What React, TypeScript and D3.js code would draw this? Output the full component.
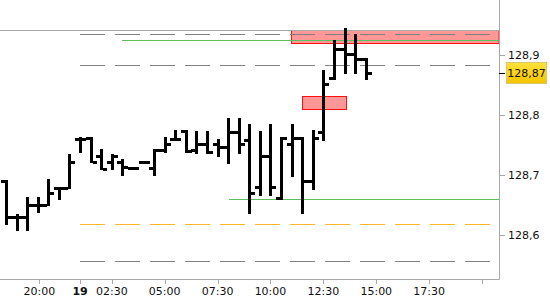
import React from "react";
import * as d3 from "d3";

// OHLC bars (30-minute bars, index based)
const opens = [128.690, 128.631, 128.631, 128.650, 128.650, 128.679, 128.679, 128.760, 128.761, 128.732, 128.721, 128.722, 128.711, 128.722, 128.711, 128.742, 128.760, 128.773, 128.741, 128.751, 128.751, 128.746, 128.772, 128.759, 128.680, 128.731, 128.662, 128.751, 128.761, 128.690, 128.771, 128.861, 128.909, 128.901, 128.892];
const highs = [128.690, 128.634, 128.662, 128.662, 128.692, 128.679, 128.733, 128.761, 128.761, 128.742, 128.733, 128.725, 128.711, 128.722, 128.742, 128.761, 128.773, 128.773, 128.772, 128.772, 128.759, 128.793, 128.793, 128.783, 128.772, 128.783, 128.761, 128.783, 128.761, 128.773, 128.873, 128.923, 128.942, 128.933, 128.892];
const lows = [128.618, 128.609, 128.609, 128.638, 128.650, 128.660, 128.679, 128.739, 128.721, 128.710, 128.710, 128.700, 128.711, 128.722, 128.700, 128.739, 128.758, 128.739, 128.737, 128.737, 128.731, 128.720, 128.737, 128.637, 128.667, 128.667, 128.660, 128.699, 128.637, 128.677, 128.758, 128.860, 128.869, 128.869, 128.860];
const closes = [128.631, 128.631, 128.650, 128.650, 128.670, 128.679, 128.722, 128.760, 128.721, 128.710, 128.732, 128.714, 128.711, 128.722, 128.741, 128.751, 128.760, 128.740, 128.751, 128.739, 128.746, 128.772, 128.751, 128.670, 128.731, 128.680, 128.761, 128.761, 128.690, 128.761, 128.851, 128.909, 128.901, 128.892, 128.870];

const xTickIdx = [3.15, 7, 10, 15, 20, 25, 30, 35, 40, 45];
const xTickLabels = ["20:00", "19", "02:30", "05:00", "07:30", "10:00", "12:30", "15:00", "17:30", ""];
const yTicks = [128.6, 128.7, 128.8, 128.9];
const yTickLabels = ["128,6", "128,7", "128,8", "128,9"];
const lastPrice = 128.87;
const lastPriceLabel = "128,87";

// horizontal levels
const dashedGrayLevels = [128.934, 128.882, 128.5575];
const dashedOrangeLevels = [128.6184];
const dashedStartIdx = 7;
const greenLevels = [128.925, 128.660];
const greenStartIdx = [11, 21.1];
const solidGrayLevels = [128.941];
// zones: [startIdx, endIdx (null = to axis), low, high]
const zoneStart = [26.97, 28];
const zoneEnd = [null, 32.1];
const zoneLow = [128.919, 128.809];
const zoneHigh = [128.941, 128.831];

export default function App() {
  const W = 550, H = 300;
  const plotRight = 499, plotBottom = 279;
  const x = d3.scaleLinear().domain([0, 34]).range([6, 365.7]);
  const y = d3.scaleLinear().domain([128.6, 128.9]).range([235.3, 54.6]);
  const font = "'DejaVu Sans', Verdana, sans-serif";
  const r = (v: number) => Math.round(v);

  return (
    <svg width={W} height={H} style={{ position: "absolute", left: 0, top: 0, background: "#fff" }} fontFamily={font}>
      {/* zones */}
      {zoneStart.map((s, i) => {
        const x0 = r(x(s)) + 0.5;
        const x1 = zoneEnd[i] == null ? plotRight : r(x(zoneEnd[i] as number)) + 0.5;
        const y0 = r(y(zoneHigh[i])) + 0.5;
        const y1 = r(y(zoneLow[i])) + 0.5;
        return <rect key={"z" + i} x={x0} y={y0} width={x1 - x0} height={y1 - y0} fill="#ff9797" stroke="#ff1010" strokeWidth={1} />;
      })}
      {/* solid gray levels */}
      {solidGrayLevels.map((p, i) => (
        <line key={"sg" + i} x1={0} x2={plotRight} y1={r(y(p)) + 0.5} y2={r(y(p)) + 0.5} stroke="#aaaaaa" strokeWidth={1} />
      ))}
      {/* dashed levels */}
      {dashedGrayLevels.map((p, i) => (
        <line key={"dg" + i} x1={x(dashedStartIdx)} x2={plotRight} y1={r(y(p)) + 0.5} y2={r(y(p)) + 0.5} stroke="#808080" strokeWidth={1} strokeDasharray="25,10" />
      ))}
      {dashedOrangeLevels.map((p, i) => (
        <line key={"do" + i} x1={x(dashedStartIdx)} x2={plotRight} y1={r(y(p)) + 0.5} y2={r(y(p)) + 0.5} stroke="#ffb52e" strokeWidth={1} strokeDasharray="25,10" />
      ))}
      {/* green levels */}
      {greenLevels.map((p, i) => (
        <line key={"gr" + i} x1={r(x(greenStartIdx[i]))} x2={plotRight} y1={r(y(p)) + 0.5} y2={r(y(p)) + 0.5} stroke="#5cc05c" strokeWidth={1} />
      ))}
      {/* OHLC bars */}
      {opens.map((o, i) => {
        const cx = r(x(i));
        const yh = r(y(highs[i]));
        const yl = r(y(lows[i]));
        const yo = r(y(o));
        const yc = r(y(closes[i]));
        return (
          <g key={"b" + i} fill="#000">
            <rect x={cx - 1} y={yh - 1} width={3} height={Math.max(3, yl - yh + 2)} />
            <rect x={cx - 5} y={yo - 1} width={4} height={3} />
            <rect x={cx + 2} y={yc - 1} width={4} height={3} />
          </g>
        );
      })}
      {/* axes */}
      <line x1={plotRight + 0.5} x2={plotRight + 0.5} y1={0} y2={plotBottom + 0.5} stroke="#a8a8a8" strokeWidth={1} />
      <line x1={0} x2={plotRight + 0.5} y1={plotBottom + 0.5} y2={plotBottom + 0.5} stroke="#a8a8a8" strokeWidth={1} />
      {yTicks.map((t, i) => (
        <g key={"yt" + i}>
          <line x1={plotRight} x2={plotRight + 6} y1={r(y(t)) + 0.5} y2={r(y(t)) + 0.5} stroke="#a8a8a8" />
          <text x={plotRight + 9} y={y(t)} dy="0.36em" fontSize={11} fill="#111">{yTickLabels[i]}</text>
        </g>
      ))}
      {/* last price label */}
      <defs>
        <linearGradient id="gold" x1="0" y1="0" x2="0" y2="1">
          <stop offset="0" stopColor="#ffe23a" />
          <stop offset="1" stopColor="#f5c200" />
        </linearGradient>
      </defs>
      <line x1={plotRight} x2={plotRight + 6} y1={r(y(lastPrice)) + 0.5} y2={r(y(lastPrice)) + 0.5} stroke="#000" />
      <rect x={506.5} y={r(y(lastPrice)) - 10.5} width={40} height={21} fill="url(#gold)" stroke="#d9c76a" strokeWidth={1} />
      <text x={526.5} y={y(lastPrice)} dy="0.36em" textAnchor="middle" fontSize={11} fill="#111">{lastPriceLabel}</text>
      {/* x ticks */}
      {xTickIdx.map((t, i) => (
        <g key={"xt" + i}>
          <line x1={r(x(t)) + 0.5} x2={r(x(t)) + 0.5} y1={plotBottom} y2={plotBottom + 5} stroke="#a8a8a8" />
          <text x={x(t)} y={291} dy="0.36em" textAnchor="middle" fontSize={11} fill="#111" fontWeight={xTickLabels[i] === "19" ? "bold" : "normal"}>{xTickLabels[i]}</text>
        </g>
      ))}
    </svg>
  );
}
